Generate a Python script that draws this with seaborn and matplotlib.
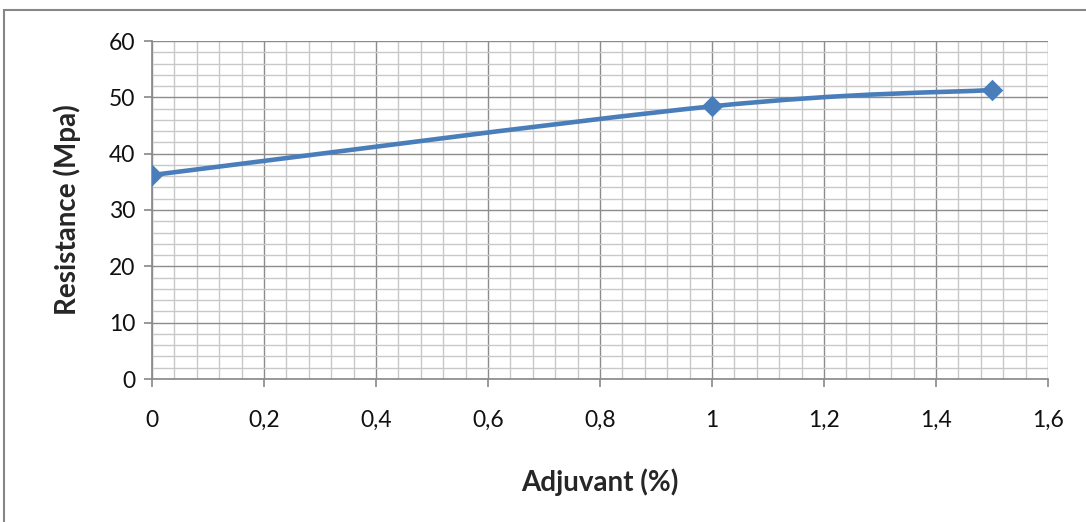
import numpy as np
import pandas as pd
import seaborn as sns
import matplotlib.pyplot as plt
from matplotlib.path import Path
from matplotlib.patches import PathPatch, Rectangle
from matplotlib.ticker import MultipleLocator, FuncFormatter

# donnees
adjuvant = [0, 1, 1.5]
resistance = [36.2, 48.4, 51.3]

df = pd.DataFrame({"adjuvant": adjuvant, "resistance": resistance})

sns.set_theme(style="white")
plt.rcParams["font.family"] = ["Lato", "DejaVu Sans"]

fig = plt.figure(figsize=(10.86, 5.22), dpi=100)
ax = fig.add_axes([152 / 1086, 1 - 379 / 522, (1048 - 152) / 1086, (379 - 41) / 522])

blue = "#4a7ebb"

# ligne lissee (bezier type Excel) calculee a partir des points
x = np.array(df["adjuvant"], dtype=float)
y = np.array(df["resistance"], dtype=float)
n = len(x)
verts = [(x[0], y[0])]
codes = [Path.MOVETO]
for i in range(n - 1):
    p0 = np.array([x[max(i - 1, 0)], y[max(i - 1, 0)]])
    p1 = np.array([x[i], y[i]])
    p2 = np.array([x[i + 1], y[i + 1]])
    p3 = np.array([x[min(i + 2, n - 1)], y[min(i + 2, n - 1)]])
    c1 = p1 + (p2 - p0) / 6
    c2 = p2 - (p3 - p1) / 6
    verts += [tuple(c1), tuple(c2), tuple(p2)]
    codes += [Path.CURVE4] * 3
ax.add_patch(PathPatch(Path(verts, codes), fill=False, edgecolor=blue,
                       lw=3.3, capstyle="round", joinstyle="round", zorder=3))

sns.scatterplot(data=df, x="adjuvant", y="resistance", marker="D", s=120,
                color=blue, edgecolor=blue, linewidth=0, zorder=4, ax=ax)

ax.set_xlim(0, 1.6)
ax.set_ylim(0, 60)
ax.xaxis.set_major_locator(MultipleLocator(0.2))
ax.xaxis.set_minor_locator(MultipleLocator(0.04))
ax.yaxis.set_major_locator(MultipleLocator(10))
ax.yaxis.set_minor_locator(MultipleLocator(2))
ax.xaxis.set_major_formatter(FuncFormatter(lambda v, p: f"{v:g}".replace(".", ",")))

ax.grid(which="major", color="#8c8c8c", lw=1)
ax.grid(which="minor", color="#c8c8c8", lw=1)
ax.set_axisbelow(True)

for s in ["top", "right"]:
    ax.spines[s].set_visible(False)
ax.spines["left"].set_color("#8c8c8c")
ax.spines["bottom"].set_color("#8c8c8c")

ax.tick_params(axis="x", which="major", bottom=True, length=6, color="#8c8c8c",
               pad=16, labelsize=16.5, labelcolor="#111111")
ax.tick_params(axis="y", which="major", left=True, length=6, color="#8c8c8c",
               pad=6, labelsize=16.5, labelcolor="#111111")
ax.tick_params(which="minor", length=0)

ax.set_xlabel("Adjuvant (%)", fontsize=20, fontweight="bold", labelpad=27)
ax.set_ylabel("Resistance (Mpa)", fontsize=20, fontweight="bold", labelpad=20)

# cadre du graphique
fig.patches.append(Rectangle((4 / 1086, -0.1), 1.2, 1 - 10 / 522 + 0.1,
                             transform=fig.transFigure, fill=False,
                             edgecolor="#878787", lw=1.5))

fig.savefig("out.png", dpi=100)
